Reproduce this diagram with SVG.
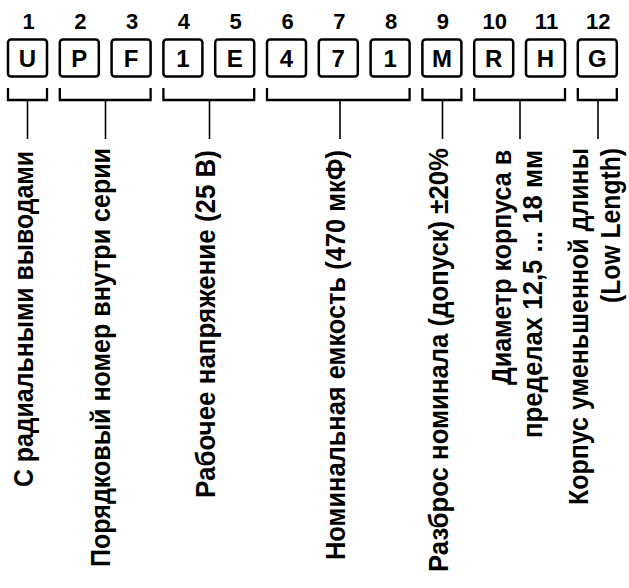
<svg xmlns="http://www.w3.org/2000/svg" width="629" height="588" viewBox="0 0 629 588">
<style>
  .num { font-family: "Liberation Sans", Arial, sans-serif; font-weight: bold; font-size: 22px; text-anchor: middle; fill: #000; }
  .box rect { fill: #fff; stroke: #000; stroke-width: 2.5; }
  .box text { font-family: "Liberation Sans", Arial, sans-serif; font-weight: bold; font-size: 24px; text-anchor: middle; fill: #000; }
  .br { fill: none; stroke: #000; stroke-width: 2.3; }
  .stem { fill: none; stroke: #000; stroke-width: 1.6; }
  .lbl { font-family: "Liberation Sans", Arial, sans-serif; font-weight: bold; font-size: 27px; fill: #000; }
</style>
<rect width="629" height="588" fill="#fff"/>

<g id="numbers">
  <text class="num" x="28.5" y="29">1</text>
  <text class="num" x="80.3" y="29">2</text>
  <text class="num" x="132.1" y="29">3</text>
  <text class="num" x="183.9" y="29">4</text>
  <text class="num" x="235.7" y="29">5</text>
  <text class="num" x="287.5" y="29">6</text>
  <text class="num" x="339.3" y="29">7</text>
  <text class="num" x="391.1" y="29">8</text>
  <text class="num" x="442.9" y="29">9</text>
  <text class="num" x="494.7" y="29">10</text>
  <text class="num" x="546.5" y="29">11</text>
  <text class="num" x="598.3" y="29">12</text>
</g>

<g id="box1" class="box"><rect x="8" y="39.5" width="39" height="37" rx="3"/><text x="27.5" y="67">U</text></g>
<g id="box2" class="box"><rect x="59.8" y="39.5" width="39" height="37" rx="3"/><text x="79.3" y="67">P</text></g>
<g id="box3" class="box"><rect x="111.6" y="39.5" width="39" height="37" rx="3"/><text x="131.1" y="67">F</text></g>
<g id="box4" class="box"><rect x="163.4" y="39.5" width="39" height="37" rx="3"/><text x="182.9" y="67">1</text></g>
<g id="box5" class="box"><rect x="215.2" y="39.5" width="39" height="37" rx="3"/><text x="234.7" y="67">E</text></g>
<g id="box6" class="box"><rect x="267" y="39.5" width="39" height="37" rx="3"/><text x="286.5" y="67">4</text></g>
<g id="box7" class="box"><rect x="318.8" y="39.5" width="39" height="37" rx="3"/><text x="338.3" y="67">7</text></g>
<g id="box8" class="box"><rect x="370.6" y="39.5" width="39" height="37" rx="3"/><text x="390.1" y="67">1</text></g>
<g id="box9" class="box"><rect x="422.4" y="39.5" width="39" height="37" rx="3"/><text x="441.9" y="67">M</text></g>
<g id="box10" class="box"><rect x="474.2" y="39.5" width="39" height="37" rx="3"/><text x="493.7" y="67">R</text></g>
<g id="box11" class="box"><rect x="526" y="39.5" width="39" height="37" rx="3"/><text x="545.5" y="67">H</text></g>
<g id="box12" class="box"><rect x="577.8" y="39.5" width="39" height="37" rx="3"/><text x="597.3" y="67">G</text></g>

<g id="connectors">
  <path class="br" d="M8,88 V100 H47 V88"/>
  <path class="br" d="M59.8,88 V100 H150.6 V88"/>
  <path class="br" d="M163.4,88 V100 H254.2 V88"/>
  <path class="br" d="M267,88 V100 H409.6 V88"/>
  <path class="br" d="M422.4,88 V100 H461.4 V88"/>
  <path class="br" d="M474.2,88 V100 H565 V88"/>
  <path class="br" d="M577.8,88 V100 H616.8 V88"/>
  <line class="stem" x1="27.5" y1="100" x2="27.5" y2="139"/>
  <line class="stem" x1="105.5" y1="100" x2="105.5" y2="139"/>
  <line class="stem" x1="209.5" y1="100" x2="209.5" y2="139"/>
  <line class="stem" x1="340" y1="100" x2="340" y2="139"/>
  <line class="stem" x1="442.5" y1="100" x2="442.5" y2="139"/>
  <line class="stem" x1="520" y1="100" x2="520" y2="139"/>
  <line class="stem" x1="598" y1="100" x2="598" y2="139"/>
</g>

<g id="label1"><text class="lbl" transform="translate(33,487) rotate(-90)" textLength="336" lengthAdjust="spacingAndGlyphs">С радиальными выводами</text></g>
<g id="label2"><text class="lbl" transform="translate(110,567) rotate(-90)" textLength="419" lengthAdjust="spacingAndGlyphs">Порядковый номер внутри серии</text></g>
<g id="label3"><text class="lbl" transform="translate(215,498) rotate(-90)" textLength="348" lengthAdjust="spacingAndGlyphs">Рабочее напряжение (25 В)</text></g>
<g id="label4"><text class="lbl" transform="translate(345,560) rotate(-90)" textLength="410" lengthAdjust="spacingAndGlyphs">Номинальная емкость (470 мкФ)</text></g>
<g id="label5"><text class="lbl" transform="translate(448,572) rotate(-90)" textLength="424" lengthAdjust="spacingAndGlyphs">Разброс номинала (допуск) ±20%</text></g>
<g id="label6">
  <text class="lbl" transform="translate(511,385) rotate(-90)" textLength="235" lengthAdjust="spacingAndGlyphs">Диаметр корпуса в</text>
  <text class="lbl" transform="translate(542,438) rotate(-90)" textLength="288" lengthAdjust="spacingAndGlyphs">пределах 12,5 ... 18 мм</text>
</g>
<g id="label7">
  <text class="lbl" transform="translate(588,505) rotate(-90)" textLength="357" lengthAdjust="spacingAndGlyphs">Корпус уменьшенной длины</text>
  <text class="lbl" transform="translate(620,303) rotate(-90)" textLength="155" lengthAdjust="spacingAndGlyphs">(Low Length)</text>
</g>
</svg>
